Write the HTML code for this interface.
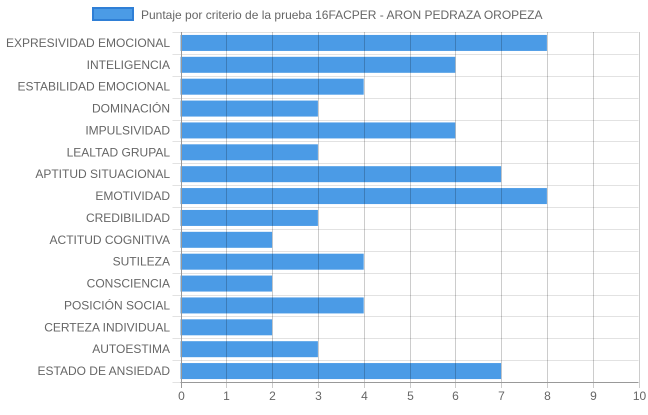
<!DOCTYPE html>
<html><head><meta charset="utf-8"><style>
body{margin:0;background:#fff;width:648px;height:410px;overflow:hidden}
svg{font-family:"Liberation Sans",sans-serif}
</style></head><body>
<svg id="c" width="648" height="410">
<g>
<rect x="93" y="8" width="40" height="12" fill="#4b9be6" stroke="#2f7fd6" stroke-width="2"/>
<text x="141" y="19" font-size="12" fill="#666">Puntaje por criterio de la prueba 16FACPER - ARON PEDRAZA OROPEZA</text>
</g>
</svg>
<script>
const categories=["EXPRESIVIDAD EMOCIONAL","INTELIGENCIA","ESTABILIDAD EMOCIONAL","DOMINACIÓN","IMPULSIVIDAD","LEALTAD GRUPAL","APTITUD SITUACIONAL","EMOTIVIDAD","CREDIBILIDAD","ACTITUD COGNITIVA","SUTILEZA","CONSCIENCIA","POSICIÓN SOCIAL","CERTEZA INDIVIDUAL","AUTOESTIMA","ESTADO DE ANSIEDAD"];
const values=[8,6,4,3,6,3,7,8,3,2,4,2,4,2,3,7];
const ticks=[0,1,2,3,4,5,6,7,8,9,10];
const svg=document.getElementById('c');
const NS='http://www.w3.org/2000/svg';
const x0=180.5,x1=638.5,y0=32,y1=382,xmax=10;
const xs=v=>x0+(x1-x0)*v/xmax;
const band=(y1-y0)/categories.length;
const yc=i=>y0+band*(i+0.5);
function mk(t,a){const e=document.createElementNS(NS,t);for(const k in a)e.setAttribute(k,a[k]);svg.appendChild(e);return e;}
// horizontal grid
for(let i=0;i<=categories.length;i++){
  const y=Math.round(y0+band*i)+0.5;
  const l=mk('line',{x1:x0-8,x2:x1,y1:y,y2:y,stroke:'#e2e2e2','stroke-width':1});
  
  
}
// bars
categories.forEach((c,i)=>{
  const r=mk('rect',{x:x0,y:yc(i)-8,width:xs(values[i])-x0,height:16,fill:'#4b9be6'});
  
  
  const t=mk('text',{x:170,y:yc(i)+4,'font-size':12,fill:'#666','text-anchor':'end'});
  t.textContent=c;
  
  
});
// vertical grid & ticks
ticks.forEach(v=>{
  const x=Math.round(xs(v))+0.5;
  const l=mk('line',{x1:x,x2:x,y1:y0,y2:y1+6,stroke:v===0?'#999':'rgba(0,0,0,0.2)','stroke-width':1});
  
  
  const t=mk('text',{x:x,y:400,'font-size':12,fill:'#666','text-anchor':'middle'});
  t.textContent=v;
  
  
});
const ax=mk('line',{x1:x0,x2:x1,y1:y1+0.5,y2:y1+0.5,stroke:'#999','stroke-width':1});


</script>
</body></html>
